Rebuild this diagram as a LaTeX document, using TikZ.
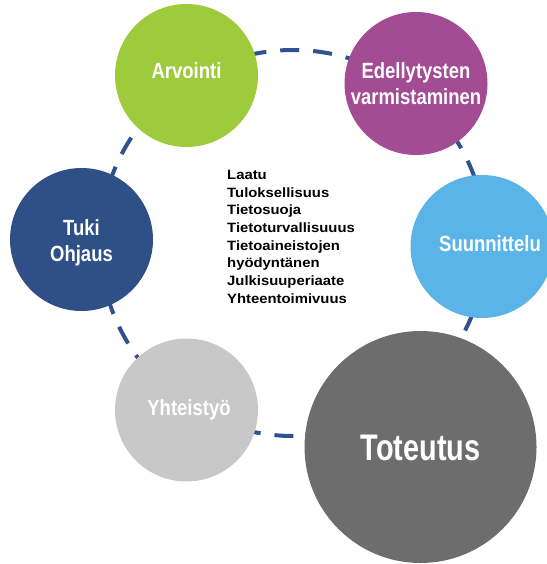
\documentclass[tikz,border=0pt]{standalone}
\usepackage{fontspec}
\setmainfont{Liberation Sans}
\newfontfamily\narrowfont[FakeStretch=0.84]{Liberation Sans}
\newfontfamily\widenarrowfont[FakeStretch=0.78]{Liberation Sans}
\newfontfamily\listfont[FakeStretch=1.1]{Liberation Sans}
\definecolor{arvgreen}{RGB}{158,203,59}
\definecolor{edepurple}{RGB}{163,76,148}
\definecolor{suublue}{RGB}{91,180,232}
\definecolor{totgray}{RGB}{109,109,109}
\definecolor{yhtgray}{RGB}{200,200,200}
\definecolor{tukiblue}{RGB}{47,79,135}
\definecolor{ringblue}{RGB}{46,82,143}
\tikzset{
  phase/.style={circle,fill=#1,minimum size=143pt,inner sep=0pt},
  phasetext/.style={text=white,align=center,inner sep=0pt,
    font=\narrowfont\bfseries\fontsize{22}{26}\selectfont},
}
\begin{document}
\begin{tikzpicture}[x=1pt,y=-1pt]
        \useasboundingbox (0,0) rectangle (546,564);
        %% Ring
        \draw[ringblue,line width=4pt,dash pattern=on 19pt off 14pt] (293,243) circle (193pt);
        %% Circles
        \node[phase=arvgreen] (arviointi) at (186.5,75.5) {};
        \node[phase=edepurple] (edellytykset) at (416,83.5) {};
        \node[phase=suublue] (suunnittelu) at (482,246.5) {};
        \node[phase=totgray,minimum size=232pt] (toteutus) at (420.5,447) {};
        \node[phase=yhtgray] (yhteistyo) at (186.5,410) {};
        \node[phase=tukiblue] (tuki) at (81.5,239.5) {};
        %% Labels
        \node[phasetext] at ([yshift=4.5pt]arviointi) {Arvointi};
        \node[phasetext] at (edellytykset) {Edellytysten\\varmistaminen};
        \node[phasetext] at ([xshift=8pt,yshift=2.5pt]suunnittelu) {Suunnittelu};
        \node[phasetext,font=\widenarrowfont\bfseries\fontsize{37}{42}\selectfont] at ([yshift=-1pt]toteutus) {Toteutus};
        \node[phasetext] at ([xshift=2.5pt]yhteistyo) {Yhteistyö};
        \node[phasetext] at ([yshift=-3pt]tuki) {Tuki\\Ohjaus};
        %% Values
        \node[anchor=north west,align=left,inner sep=0pt,
          font=\listfont\bfseries\fontsize{13.5}{17.7}\selectfont] (arvot) at (227,170)
          {Laatu\\Tuloksellisuus\\Tietosuoja\\Tietoturvallisuuus\\Tietoaineistojen\\hyödyntänen\\Julkisuuperiaate\\Yhteentoimivuus};
    \end{tikzpicture}
\end{document}
